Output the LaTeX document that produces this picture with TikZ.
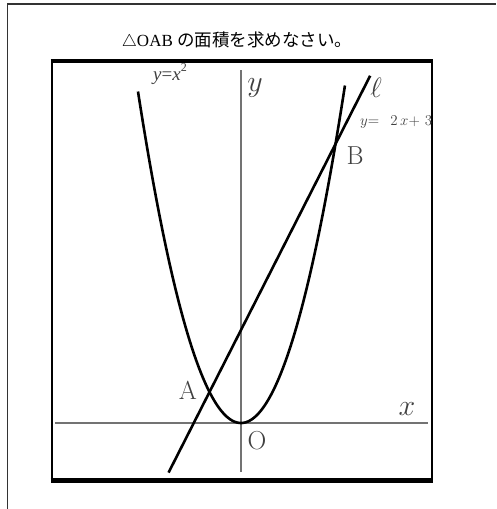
\RequirePackage{fix-cm}
\documentclass[tikz,border=0pt]{standalone}
\usepackage{fontspec}
\newfontfamily\jp{Noto Sans CJK JP}
\newfontfamily\tms{Liberation Serif}
\tikzset{
  frame/.style={draw=black!80, line width=1.5pt},
  boxline/.style={draw=black, line width=2.7pt},
  axis/.style={draw=black!55, line width=1.2pt},
  curve/.style={draw=black, line width=2.6pt},
  big/.style={font=\fontsize{26}{28}\selectfont, text=black!75, inner sep=0pt},
  mathlab/.style={font=\fontsize{30}{32}\selectfont, text=black!75, inner sep=0pt}
}
\begin{document}
\begin{tikzpicture}[x=1pt,y=-1pt]
\useasboundingbox (0,0) rectangle (496,509);
% outer frame (partial)
\draw[frame] (7.5,509) -- (7.5,4) -- (496,4);
% title
\node[inner sep=0pt] (title) at (237,41) {\fontsize{17}{19}\selectfont $\triangle$\tms OAB \jp\fontsize{17.5}{19}\selectfont の面積を求めなさい。};
% inner box
\draw[boxline] (52,61) -- (52,480);
\draw[boxline] (432,61) -- (432,480);
\draw[draw=black, line width=3.5pt] (50.6,61) -- (433.4,61);
\draw[draw=black, line width=4.3pt] (50.6,480.5) -- (433.4,480.5);
% axes
\coordinate (xl) at (55,423);
\coordinate (xr) at (428,423);
\coordinate (yb) at (241,472);
\coordinate (yt) at (241,70);
\draw[axis] (xl) -- (xr);
\draw[axis] (yb) -- (yt);
% curves
\begin{scope}[shift={(241,423)}, x=31.5pt, y=31pt]
  \draw[curve] plot[domain=-3.27:3.3, samples=120, smooth] (\x,{\x*\x});
  \coordinate (l1) at (-2.3,-1.6);
  \coordinate (l2) at (4.1,11.2);
  \draw[curve] (l1) -- (l2);
\end{scope}
% labels
\node[mathlab] (ylab) at (255,88) {$y$};
\node[mathlab] (xlab) at (407,409) {$x$};
\node[big] (O) at (257,441) {O};
\node[big] (A) at (188,390) {A};
\node[big] (B) at (355,156) {B};
\node[font=\fontsize{28}{30}\selectfont, text=black!75, inner sep=0pt] (ell) at (376,88) {$\ell$};
\node[font=\fontsize{19}{21}\selectfont\tms, text=black!75, inner sep=0pt, anchor=base west] (par) at (153,80) {\itshape y\upshape{=}\itshape x\upshape\raisebox{0.45em}{\fontsize{12}{13}\selectfont 2}};
\node[font=\fontsize{15}{17}\selectfont, text=black!75, inner sep=0pt, anchor=base west] (lin) at (360,125) {$y{=}\hspace{11pt}2\,x{+}\hspace{5pt}3$};
\end{tikzpicture}
\end{document}
